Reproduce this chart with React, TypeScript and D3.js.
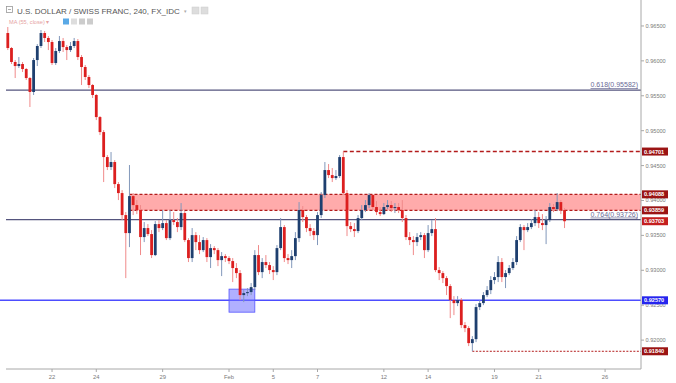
import React from 'react';
import * as d3 from 'd3';

// ---- data (USD/CHF, 4H candles, Jan 18 – Feb 22) ----
const firstOpen = 0.96399;
const closes = [
  0.96184, 0.95984, 0.95926, 0.95955, 0.95883, 0.95754, 0.95554, 0.96012, 0.96213, 0.96399,
  0.96328, 0.96270, 0.95969, 0.96141, 0.96284, 0.96198, 0.96155, 0.96213, 0.96284, 0.96055,
  0.95912, 0.95769, 0.95654, 0.95511, 0.95195, 0.94980, 0.94622, 0.94479, 0.94551, 0.94235,
  0.94106, 0.93791, 0.93533, 0.94063, 0.93934, 0.93863, 0.93476, 0.93605, 0.93519, 0.93218,
  0.93662, 0.93605, 0.93676, 0.93461, 0.93719, 0.93691, 0.93619, 0.93820, 0.93433, 0.93175,
  0.93504, 0.93404, 0.93289, 0.93433, 0.93189, 0.93318, 0.93289, 0.93146, 0.93203, 0.93175,
  0.93132, 0.93032, 0.92960, 0.92645, 0.92673, 0.92688, 0.92759, 0.93218, 0.92974, 0.93118,
  0.93075, 0.93003, 0.92974, 0.93318, 0.93619, 0.93175, 0.93146, 0.93203, 0.93461, 0.93863,
  0.93762, 0.93605, 0.93562, 0.93504, 0.93791, 0.94078, 0.94436, 0.94364, 0.94321, 0.94350,
  0.94622, 0.94106, 0.93633, 0.93590, 0.93562, 0.93748, 0.93863, 0.93934, 0.94078, 0.93906,
  0.93834, 0.93805, 0.93906, 0.93934, 0.93891, 0.93906, 0.93863, 0.93748, 0.93476, 0.93433,
  0.93404, 0.93476, 0.93504, 0.93289, 0.93533, 0.93590, 0.93003, 0.92960, 0.92888, 0.92774,
  0.92573, 0.92530, 0.92573, 0.92215, 0.92172, 0.91957, 0.92014, 0.92473, 0.92530, 0.92645,
  0.92716, 0.92860, 0.92903, 0.93118, 0.92903, 0.92960, 0.93032, 0.93118, 0.93433, 0.93619,
  0.93576, 0.93619, 0.93676, 0.93762, 0.93676, 0.93648, 0.93719, 0.93906, 0.93877, 0.93977,
  0.93863, 0.93703,
];
const highs = [
  0.96485, 0.96198, 0.96012, 0.96055, 0.95984, 0.95898, 0.95769, 0.96041, 0.96241, 0.96442,
  0.96428, 0.96356, 0.96299, 0.96184, 0.96356, 0.96328, 0.96227, 0.96270, 0.96328, 0.96313,
  0.96084, 0.95941, 0.95797, 0.95668, 0.95525, 0.95210, 0.95009, 0.94651, 0.94694, 0.94579,
  0.94264, 0.94149, 0.93834, 0.94508, 0.94106, 0.94006, 0.93934, 0.93691, 0.93662, 0.93576,
  0.93705, 0.93719, 0.93863, 0.93719, 0.93863, 0.93834, 0.93748, 0.93963, 0.93848, 0.93461,
  0.93605, 0.93547, 0.93504, 0.93476, 0.93461, 0.93375, 0.93347, 0.93318, 0.93261, 0.93232,
  0.93203, 0.93175, 0.93103, 0.93003, 0.92716, 0.92745, 0.92817, 0.93289, 0.93361, 0.93175,
  0.93218, 0.93118, 0.93060, 0.93361, 0.93748, 0.93648, 0.93232, 0.93289, 0.93547, 0.93977,
  0.93920, 0.93791, 0.93662, 0.93605, 0.93834, 0.94121, 0.94551, 0.94522, 0.94465, 0.94436,
  0.94651, 0.94701, 0.94149, 0.93691, 0.93676, 0.93791, 0.93934, 0.94006, 0.94106, 0.94035,
  0.93992, 0.93906, 0.93963, 0.94006, 0.93992, 0.93963, 0.93963, 0.94006, 0.93791, 0.93547,
  0.93490, 0.93533, 0.93547, 0.93533, 0.93648, 0.93719, 0.93748, 0.93046, 0.92989, 0.92917,
  0.92802, 0.92630, 0.92630, 0.92602, 0.92258, 0.92200, 0.92057, 0.92516, 0.92573, 0.92688,
  0.92774, 0.92917, 0.92974, 0.93203, 0.93175, 0.93003, 0.93075, 0.93175, 0.93490, 0.93662,
  0.93648, 0.93676, 0.93734, 0.93863, 0.93834, 0.93805, 0.93777, 0.93963, 0.93949, 0.94106,
  0.94006, 0.93891,
];
const lows = [
  0.96155, 0.95955, 0.95754, 0.95898, 0.95840, 0.95726, 0.95339, 0.95511, 0.95926, 0.96184,
  0.96270, 0.96155, 0.95941, 0.95941, 0.96112, 0.96127, 0.96012, 0.96127, 0.96184, 0.96012,
  0.95654, 0.95726, 0.95611, 0.95468, 0.95152, 0.94937, 0.94264, 0.94436, 0.94436, 0.94178,
  0.94006, 0.93719, 0.92888, 0.93332, 0.93791, 0.93805, 0.93218, 0.93404, 0.93490, 0.93175,
  0.93203, 0.93547, 0.93576, 0.93433, 0.93433, 0.93648, 0.93547, 0.93576, 0.93404, 0.93118,
  0.93118, 0.93289, 0.93232, 0.93261, 0.93118, 0.93032, 0.93232, 0.93060, 0.92917, 0.93118,
  0.93089, 0.92831, 0.92888, 0.92573, 0.92544, 0.92630, 0.92645, 0.92716, 0.92931, 0.92888,
  0.93032, 0.92946, 0.92860, 0.92931, 0.93289, 0.93118, 0.93089, 0.93032, 0.93146, 0.93404,
  0.93691, 0.93547, 0.93490, 0.93433, 0.93361, 0.93748, 0.94035, 0.94321, 0.94264, 0.94293,
  0.94321, 0.94078, 0.93490, 0.93547, 0.93476, 0.93533, 0.93719, 0.93834, 0.93891, 0.93863,
  0.93791, 0.93777, 0.93791, 0.93877, 0.93834, 0.93820, 0.93820, 0.93691, 0.93433, 0.93361,
  0.93218, 0.93347, 0.93433, 0.93175, 0.93261, 0.93490, 0.92974, 0.92860, 0.92817, 0.92645,
  0.92315, 0.92358, 0.92487, 0.92172, 0.92114, 0.91914, 0.91840, 0.91971, 0.92430, 0.92501,
  0.92616, 0.92659, 0.92802, 0.92831, 0.92831, 0.92745, 0.92931, 0.93003, 0.93075, 0.93404,
  0.93289, 0.93547, 0.93590, 0.93633, 0.93605, 0.93576, 0.93375, 0.93691, 0.93834, 0.93848,
  0.93805, 0.93605,
];

// x-axis: candle index where each day label sits (6 candles per trading day)
const dayLabels = ['22', '24', '29', 'Feb', '5', '7', '12', '14', '19', '21', '26'];
const dayCandleIndex = [12, 24, 42, 60, 72, 84, 102, 114, 132, 144, 162];

const priceTicks = [0.965, 0.96, 0.955, 0.95, 0.945, 0.94, 0.935, 0.93, 0.925, 0.92];

const fibLevels = [
  { ratio: '0.618', price: 0.95582 },
  { ratio: '0.764', price: 0.93726 },
];
const zoneTop = 0.94088;
const zoneBottom = 0.93859;
const zoneStart = 33;
const peakLevel = 0.94701;
const peakStart = 91;
const lowLevel = 0.9184;
const lowStart = 126;
const supportLevel = 0.9257;
const boxStart = 60;
const boxEnd = 67;
const boxTop = 0.9273;
const boxBottom = 0.924;

const priceTags = [
  { v: 0.94701, color: '#9b1414' },
  { v: 0.94088, color: '#9b1414' },
  { v: 0.93859, color: '#9b1414' },
  { v: 0.93703, color: '#c41f1f' },
  { v: 0.9257, color: '#2525ee' },
  { v: 0.9184, color: '#9b1414' },
];

const W = 676;
const H = 383;
const plotRight = 641;
const plotBottom = 369;

export default function App() {
  const x = d3.scaleLinear().domain([-2.115, 171.74]).range([0, plotRight]);
  const y = d3.scaleLinear().domain([0.91586, 0.96872]).range([plotBottom, 0]);
  const fmt = d3.format('.5f');
  const bw = 2.8;
  const up = '#1e3f6f';
  const down = '#dc1f1f';
  const font = "'Liberation Sans', Arial, sans-serif";

  const candles = closes.map((c, i) => {
    const o = i === 0 ? firstOpen : closes[i - 1];
    return { o, c, h: highs[i], l: lows[i], i };
  });

  return (
    <svg width={W} height={H} style={{ position: 'absolute', left: 0, top: 0, display: 'block', background: '#fff' }} fontFamily={font}>
      <rect x={0} y={0} width={W} height={H} fill="#fff" />

      {/* resistance zone */}
      <rect x={x(zoneStart)} y={y(zoneTop)} width={plotRight - x(zoneStart)} height={y(zoneBottom) - y(zoneTop)} fill="#ff8f8f" fillOpacity={0.75} />
      <line x1={x(zoneStart)} x2={plotRight} y1={y(zoneTop)} y2={y(zoneTop)} stroke="#b31b1b" strokeWidth={1.3} strokeDasharray="3,2" />
      <line x1={x(zoneStart)} x2={plotRight} y1={y(zoneBottom)} y2={y(zoneBottom)} stroke="#b31b1b" strokeWidth={1.3} strokeDasharray="3,2" />

      {/* fib levels */}
      {fibLevels.map((f) => (
        <g key={f.ratio}>
          <line x1={6} x2={plotRight} y1={y(f.price)} y2={y(f.price)} stroke="#55557e" strokeWidth={1.3} />
          <text x={638} y={y(f.price) - 3} textAnchor="end" fontSize={7} fill="#6a6a96" textDecoration="underline">
            {`${f.ratio}(${fmt(f.price)})`}
          </text>
        </g>
      ))}

      {/* support line & box */}
      <line x1={0} x2={plotRight} y1={y(supportLevel)} y2={y(supportLevel)} stroke="#4d4dff" strokeWidth={1.4} />
      <rect x={x(boxStart)} y={y(boxTop)} width={x(boxEnd) - x(boxStart)} height={y(boxBottom) - y(boxTop)} fill="#7070ff" fillOpacity={0.55} stroke="#5555ff" strokeWidth={0.8} />

      {/* peak & low lines */}
      <line x1={x(peakStart)} x2={plotRight} y1={y(peakLevel)} y2={y(peakLevel)} stroke="#b31b1b" strokeWidth={1.5} strokeDasharray="4,2.5" />
      <line x1={x(lowStart)} x2={plotRight} y1={y(lowLevel)} y2={y(lowLevel)} stroke="#b31b1b" strokeWidth={1} strokeDasharray="2,1.5" />

      {/* candles */}
      {candles.map((d) => {
        const isUp = d.c >= d.o;
        const cx = x(d.i);
        const top = y(Math.max(d.o, d.c));
        const bot = y(Math.min(d.o, d.c));
        return (
          <g key={d.i}>
            <line x1={cx} x2={cx} y1={y(d.h)} y2={y(d.l)} stroke={isUp ? '#8298bb' : '#f08a8a'} strokeWidth={1} />
            <rect x={cx - bw / 2} y={top} width={bw} height={Math.max(1, bot - top)} fill={isUp ? up : down} />
          </g>
        );
      })}

      {/* axes */}
      <line x1={plotRight} x2={plotRight} y1={0} y2={plotBottom} stroke="#a8a8a8" strokeWidth={1} />
      <line x1={6} x2={plotRight} y1={plotBottom} y2={plotBottom} stroke="#a8a8a8" strokeWidth={1} />
      {priceTicks.map((p) => (
        <g key={p}>
          <line x1={plotRight} x2={plotRight + 3} y1={y(p)} y2={y(p)} stroke="#a8a8a8" />
          <text x={plotRight + 4.5} y={y(p) + 2} fontSize={5.6} fill="#7a7a7a">{fmt(p)}</text>
        </g>
      ))}
      {dayLabels.map((lab, k) => (
        <g key={lab}>
          <line x1={x(dayCandleIndex[k])} x2={x(dayCandleIndex[k])} y1={plotBottom} y2={plotBottom + 3} stroke="#a8a8a8" />
          <text x={x(dayCandleIndex[k])} y={plotBottom + 10} textAnchor="middle" fontSize={5.8} fill="#7a7a7a">{lab}</text>
        </g>
      ))}

      {/* price tags */}
      {priceTags.map((t) => (
        <g key={t.v}>
          <rect x={plotRight + 1} y={y(t.v) - 4} width={26} height={8} fill={t.color} />
          <text x={plotRight + 3} y={y(t.v) + 2} fontSize={5.6} fill="#fff" fontWeight="bold">{fmt(t.v)}</text>
        </g>
      ))}

      {/* header */}
      <rect x={6.5} y={6.5} width={6} height={6} fill="none" stroke="#999" strokeWidth={0.8} />
      <line x1={8} x2={11} y1={9.5} y2={9.5} stroke="#999" strokeWidth={0.8} />
      <text x={17} y={13.5} fontSize={8} fill="#555">U.S. DOLLAR / SWISS FRANC, 240, FX_IDC</text>
      <text x={184} y={12.5} fontSize={5} fill="#aaa">▾</text>
      <rect x={192} y={7} width={7} height={7} fill="#ddd" stroke="#ccc" strokeWidth={0.5} />
      <rect x={201} y={7} width={7} height={7} fill="#ddd" stroke="#ccc" strokeWidth={0.5} />
      <text x={9} y={23.5} fontSize={5.6} fill="#e6a3a3">MA (55, close) ▾</text>
      <rect x={63} y={18.5} width={6} height={6} fill="#5aa9e6" />
      <rect x={71} y={18.5} width={6} height={6} fill="#ddd" />
      <rect x={79} y={18.5} width={6} height={6} fill="#ccc" />
      <rect x={87} y={18.5} width={6} height={6} fill="#ccc" />
    </svg>
  );
}
